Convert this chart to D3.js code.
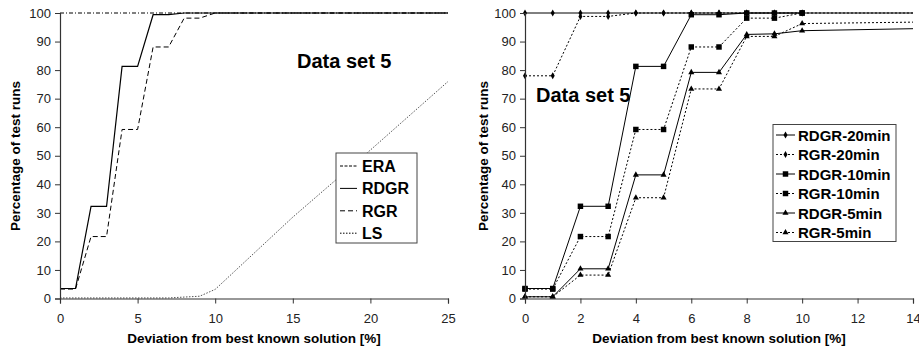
<!DOCTYPE html>
<html>
<head>
<meta charset="utf-8">
<script src="https://cdn.jsdelivr.net/npm/d3@7"></script>
<style>
  body { margin: 0; background: #fff; }
  svg { display: block; font-family: "Liberation Sans", Arial, sans-serif; }
</style>
</head>
<body>
<svg id="chart" width="919" height="350"></svg>
<script>
// --- data ---
const yTicks = [0, 10, 20, 30, 40, 50, 60, 70, 80, 90, 100];
const leftXTicks = [0, 5, 10, 15, 20, 25];
const rightXTicks = [0, 2, 4, 6, 8, 10, 12, 14];

// left panel: [deviation, percentage]
const eraData = [[0, 100], [25, 100]];
const rdgrData = [[0, 3.5], [1, 3.5], [2, 32.3], [3, 32.3], [4, 81.3], [5, 81.3], [6, 99.4], [7, 99.4], [8, 100], [25, 100]];
const rgrData = [[0, 3.3], [1, 3.3], [2, 21.7], [3, 21.7], [4, 59.2], [5, 59.2], [6, 88.1], [7, 88.1], [8, 98.2], [9, 98.2], [10, 100], [25, 100]];
const lsData = [[0, 0.2], [7, 0.2], [8, 0.5], [9, 0.8], [10, 3.2], [15, 28.5], [20, 52], [25, 76]];

// right panel: values at each deviation step
const devSteps = [0, 1, 2, 3, 4, 5, 6, 7, 8, 9, 10];
const rdgr20 = [100, 100, 100, 100, 100, 100, 100, 100, 100, 100, 100];
const rgr20 = [78, 78, 98.8, 98.8, 100, 100, 100, 100, 100, 100, 100];
const rdgr10 = [3.5, 3.5, 32.3, 32.3, 81.3, 81.3, 99.4, 99.4, 100, 100, 100];
const rgr10 = [3.3, 3.3, 21.7, 21.7, 59.2, 59.2, 88.1, 88.1, 98.2, 98.2, 100];
const rdgr5 = [0.6, 0.6, 10.4, 10.4, 43.3, 43.3, 79.2, 79.2, 92.5, 92.7, 93.8];
const rgr5 = [0.6, 0.6, 8.2, 8.2, 35.3, 35.3, 73.4, 73.4, 91.8, 91.8, 96.3];
// unmarked tails running out to the right edge
const rdgr20Tail = [[14, 100]];
const rgr20Tail = [[14, 100]];
const rdgr5Tail = [[14, 94.5]];
const rgr5Tail = [[14, 96.8]];

const svg = d3.select('#chart');

function drawAxes(g, x, y, xTicks, cfg) {
  const xAxis = g.append('g')
    .attr('transform', `translate(0,${cfg.bottom})`)
    .call(d3.axisBottom(x).tickValues(xTicks).tickSize(5).tickPadding(10).tickFormat(d3.format('d')));
  const yAxis = g.append('g')
    .attr('transform', `translate(${cfg.left},0)`)
    .call(d3.axisLeft(y).tickValues(yTicks).tickSize(5).tickPadding(4));

  [xAxis, yAxis].forEach(a => {
    a.select('.domain').attr('stroke', '#333').attr('stroke-width', 1.2);
    a.selectAll('.tick line').attr('stroke', '#333');
    a.selectAll('.tick text')
      .attr('fill', '#222')
      .style('font-size', '13px')
      .style('font-family', '"Liberation Sans", Arial, sans-serif');
  });

  g.append('text')
    .attr('x', (cfg.left + cfg.right) / 2)
    .attr('y', 343)
    .attr('text-anchor', 'middle')
    .style('font-size', '13.5px')
    .style('font-weight', 'bold')
    .text('Deviation from best known solution [%]');

  g.append('text')
    .attr('transform', `translate(${cfg.titleX},156) rotate(-90)`)
    .attr('text-anchor', 'middle')
    .style('font-size', '13.5px')
    .style('font-weight', 'bold')
    .text('Percentage of test runs');

  g.append('text')
    .attr('x', cfg.labelX)
    .attr('y', cfg.labelY)
    .style('font-size', '20px')
    .style('font-weight', 'bold')
    .text('Data set 5');
}

// ---------- left panel ----------
const L = { left: 60, right: 448, top: 13, bottom: 298.5, titleX: 20, labelX: 297, labelY: 68 };
const xL = d3.scaleLinear().domain([0, 25]).range([L.left, L.right]);
const yL = d3.scaleLinear().domain([0, 100]).range([L.bottom, L.top]);
const gL = svg.append('g');

const lineL = d3.line().x(d => xL(d[0])).y(d => yL(d[1]));
const leftSeries = [
  { name: 'ERA', data: eraData, dash: '4,2,1,2', color: '#000', width: 1 },
  { name: 'RDGR', data: rdgrData, dash: null, color: '#000', width: 1.2 },
  { name: 'RGR', data: rgrData, dash: '5,3', color: '#000', width: 1 },
  { name: 'LS', data: lsData, dash: '1.5,1.5', color: '#555', width: 1 }
];

gL.selectAll('path.series')
  .data(leftSeries.slice().reverse())
  .join('path')
  .attr('class', 'series')
  .attr('d', d => lineL(d.data))
  .attr('fill', 'none')
  .attr('stroke', d => d.color)
  .attr('stroke-width', d => d.width)
  .attr('stroke-dasharray', d => d.dash);

drawAxes(gL, xL, yL, leftXTicks, L);

// left legend
const legL = gL.append('g').attr('transform', 'translate(336,153)');
legL.append('rect')
  .attr('width', 81).attr('height', 90)
  .attr('fill', '#fff').attr('stroke', '#444');
leftSeries.forEach((s, i) => {
  const cy = 13 + i * 22.4;
  legL.append('line')
    .attr('x1', 4).attr('x2', 21).attr('y1', cy).attr('y2', cy)
    .attr('stroke', '#000').attr('stroke-width', 1)
    .attr('stroke-dasharray', i === 0 ? '3,1.5' : s.dash);
  legL.append('text')
    .attr('x', 26).attr('y', cy + 6)
    .style('font-size', '16px').style('font-weight', 'bold')
    .text(s.name);
});

// ---------- right panel ----------
const R = { left: 525, right: 913, top: 13, bottom: 298.5, titleX: 488, labelX: 536, labelY: 102 };
const xR = d3.scaleLinear().domain([0, 14]).range([R.left, R.right]);
const yR = d3.scaleLinear().domain([0, 100]).range([R.bottom, R.top]);
const gR = svg.append('g');

const lineR = d3.line().x(d => xR(d[0])).y(d => yR(d[1]));
const sym = {
  diamond: d3.symbol().type(d3.symbolDiamond).size(14),
  square: d3.symbol().type(d3.symbolSquare).size(30),
  triangle: d3.symbol().type(d3.symbolTriangle).size(16)
};
const rightSeries = [
  { name: 'RDGR-20min', vals: rdgr20, tail: rdgr20Tail, dash: null, marker: 'diamond' },
  { name: 'RGR-20min', vals: rgr20, tail: rgr20Tail, dash: '2,2', marker: 'diamond' },
  { name: 'RDGR-10min', vals: rdgr10, tail: [], dash: null, marker: 'square' },
  { name: 'RGR-10min', vals: rgr10, tail: [], dash: '2,2', marker: 'square' },
  { name: 'RDGR-5min', vals: rdgr5, tail: rdgr5Tail, dash: null, marker: 'triangle' },
  { name: 'RGR-5min', vals: rgr5, tail: rgr5Tail, dash: '2,2', marker: 'triangle' }
];
rightSeries.forEach(s => {
  s.points = devSteps.map((x, i) => [x, s.vals[i]]);
});

svg.append('clipPath').attr('id', 'clipR')
  .append('rect').attr('x', R.left - 5).attr('y', 0).attr('width', 919 - R.left + 5).attr('height', 350);

const seriesG = gR.append('g').attr('clip-path', 'url(#clipR)');
rightSeries.slice().reverse().forEach(s => {
  seriesG.append('path')
    .attr('d', lineR(s.points.concat(s.tail)))
    .attr('fill', 'none')
    .attr('stroke', '#000')
    .attr('stroke-width', 1)
    .attr('stroke-dasharray', s.dash);
  seriesG.selectAll(null)
    .data(s.points)
    .join('path')
    .attr('transform', d => `translate(${xR(d[0])},${yR(d[1])})`)
    .attr('d', sym[s.marker]())
    .attr('fill', '#000');
});

drawAxes(gR, xR, yR, rightXTicks, R);

// right legend
const legR = gR.append('g').attr('transform', 'translate(773,124.5)');
legR.append('rect')
  .attr('width', 123).attr('height', 117)
  .attr('fill', '#fff').attr('stroke', '#444');
rightSeries.forEach((s, i) => {
  const cy = 10.5 + i * 19.5;
  legR.append('line')
    .attr('x1', 3).attr('x2', 22).attr('y1', cy).attr('y2', cy)
    .attr('stroke', '#000').attr('stroke-width', 1)
    .attr('stroke-dasharray', s.dash);
  legR.append('path')
    .attr('transform', `translate(12.5,${cy})`)
    .attr('d', sym[s.marker]())
    .attr('fill', '#000');
  legR.append('text')
    .attr('x', 25).attr('y', cy + 5.5)
    .style('font-size', '15px').style('font-weight', 'bold')
    .text(s.name);
});
</script>
</body>
</html>
